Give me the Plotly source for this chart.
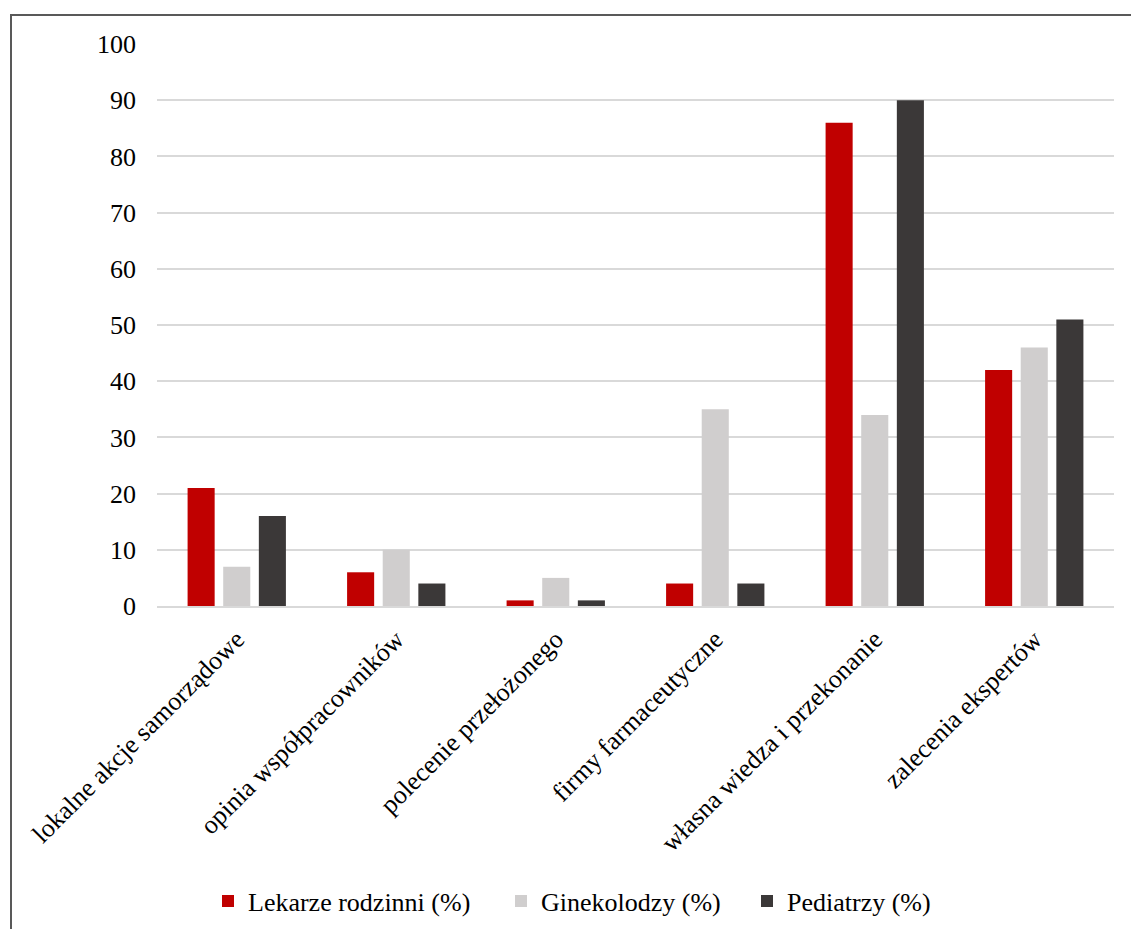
import plotly.graph_objects as go

categories = ["lokalne akcje samorządowe", "opinia współpracowników", "polecenie przełożonego",
              "firmy farmaceutyczne", "własna wiedza i przekonanie", "zalecenia ekspertów"]
lekarze = [21, 6, 1, 4, 86, 42]
ginekolodzy = [7, 10, 5, 35, 34, 46]
pediatrzy = [16, 4, 1, 4, 90, 51]
series_names = ["Lekarze rodzinni (%)", "Ginekolodzy (%)", "Pediatrzy (%)"]
colors = ["#C00000", "#D0CECE", "#3B3838"]
y_ticks = [0, 10, 20, 30, 40, 50, 60, 70, 80, 90, 100]

FONT = "Liberation Serif"
W, H = 1131, 929
L, R, T, B = 157, 17, 44, 323

legend_ids = ["legend", "legend2", "legend3"]
legend_left_px = [208, 501, 747]

fig = go.Figure()
for name, vals, col, lid in zip(series_names, [lekarze, ginekolodzy, pediatrzy], colors, legend_ids):
    fig.add_trace(go.Bar(x=categories, y=vals, name=name, legend=lid,
                         marker=dict(color=col, line=dict(width=0))))

legend_common = dict(orientation="h", xref="container", yref="container", xanchor="left",
                     y=1 - 901 / H, yanchor="middle", font=dict(size=26, family=FONT, color="black"),
                     itemwidth=30, bgcolor="rgba(0,0,0,0)", borderwidth=0)

fig.update_layout(
    width=W, height=H,
    margin=dict(l=L, r=R, t=T, b=B, autoexpand=False),
    paper_bgcolor="white", plot_bgcolor="white",
    font=dict(family=FONT, size=26, color="black"),
    barmode="group", bargap=0.33, bargroupgap=0.24,
    showlegend=True,
    legend=dict(x=legend_left_px[0] / W, **legend_common),
    legend2=dict(x=legend_left_px[1] / W, **legend_common),
    legend3=dict(x=legend_left_px[2] / W, **legend_common),
    xaxis=dict(tickangle=-45, showgrid=False, showline=True, linecolor="#D9D9D9", linewidth=1.5,
               ticks="", ticklabelstandoff=6, tickfont=dict(size=26, family=FONT, color="black")),
    yaxis=dict(range=[0, 100], tickvals=y_ticks, showgrid=True, gridcolor="#D9D9D9", gridwidth=1.5,
               zeroline=False, showline=False, ticks="", ticklabelstandoff=20,
               tickfont=dict(size=26, family=FONT, color="black")),
)

# chart border (outer frame of the original chart)
x0 = (11 - L) / (W - L - R)
x1 = (W + 5 - L) / (W - L - R)
y1 = (H - B - 15) / (H - T - B)
y0 = (H - B - H - 10) / (H - T - B)
fig.add_shape(type="rect", xref="paper", yref="paper", x0=x0, x1=x1, y0=y0, y1=y1,
              line=dict(color="#595959", width=2), fillcolor="rgba(0,0,0,0)", layer="above")

fig.write_html("out.html")
